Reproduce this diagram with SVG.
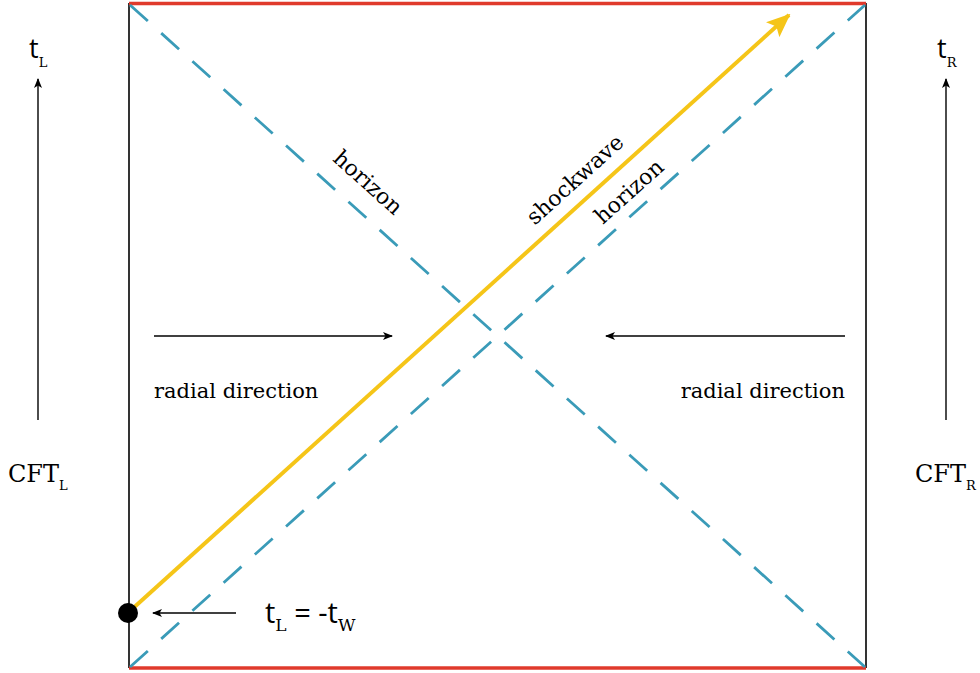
<svg xmlns="http://www.w3.org/2000/svg" width="980" height="673" viewBox="0 0 980 673">
<style>
.serif{font-family:"DejaVu Serif","Liberation Serif",serif;fill:#000}
.sans{font-family:"Open Sans","Liberation Sans",sans-serif;fill:#000}
.frame{stroke:#000;stroke-width:1.6;fill:none}
.red{stroke:#e03a2c;stroke-width:3.5}
.dash{stroke:#3a9bb8;stroke-width:2.8;stroke-dasharray:24,18;fill:none}
.arr{stroke:#000;stroke-width:1.4;fill:none}
</style>
<defs>
<marker id="ah" markerWidth="10" markerHeight="8" refX="9" refY="4" orient="auto" markerUnits="userSpaceOnUse">
<path d="M0,0 L10,4 L0,8 L2.5,4 Z" fill="#000"/>
</marker>
<marker id="ay" markerWidth="24" markerHeight="20" refX="22" refY="10" orient="auto" markerUnits="userSpaceOnUse">
<path d="M0,0 L24,10 L0,20 L5,10 Z" fill="#f5c518"/>
</marker>
</defs>
<g id="frame">
<line class="frame" x1="129" y1="3" x2="129" y2="668"/>
<line class="frame" x1="866" y1="3" x2="866" y2="668"/>
<line class="red" x1="129" y1="3.5" x2="866" y2="3.5"/>
<line class="red" x1="129" y1="668" x2="866" y2="668"/>
</g>
<g id="connectors">
<line class="dash" x1="130" y1="5" x2="865" y2="667"/>
<line class="dash" x1="130" y1="667" x2="865" y2="5"/>
<line x1="130" y1="611" x2="789" y2="15" stroke="#f5c518" stroke-width="4" marker-end="url(#ay)"/>
<line class="arr" x1="38" y1="420" x2="38" y2="79" marker-end="url(#ah)"/>
<line class="arr" x1="946" y1="420" x2="946" y2="79" marker-end="url(#ah)"/>
<line class="arr" x1="154" y1="336" x2="392" y2="336" marker-end="url(#ah)"/>
<line class="arr" x1="845" y1="336" x2="606" y2="336" marker-end="url(#ah)"/>
<line class="arr" x1="236" y1="613" x2="153" y2="613" marker-end="url(#ah)"/>
</g>
<g id="dot"><circle cx="128" cy="613" r="10" fill="#000"/></g>
<g id="labels">
<text class="serif" font-size="22" transform="translate(363,188) rotate(42)" text-anchor="middle">horizon</text>
<text class="serif" font-size="22" transform="translate(580,185) rotate(-42)" text-anchor="middle">shockwave</text>
<text class="serif" font-size="22" transform="translate(634,197) rotate(-42)" text-anchor="middle">horizon</text>
<text class="serif" font-size="21" x="154" y="398">radial direction</text>
<text class="serif" font-size="21" x="845" y="398" text-anchor="end">radial direction</text>
<text class="serif" font-size="24" x="8" y="482">CFT<tspan font-size="13" dy="8">L</tspan></text>
<text class="serif" font-size="24" x="915" y="482">CFT<tspan font-size="13" dy="8">R</tspan></text>
<text x="29" y="58"><tspan class="sans" font-size="27">t</tspan><tspan class="serif" font-size="13" dy="9">L</tspan></text>
<text x="937" y="58"><tspan class="sans" font-size="27">t</tspan><tspan class="serif" font-size="13" dy="9">R</tspan></text>
<text x="265" y="623"><tspan class="sans" font-size="29">t</tspan><tspan class="serif" font-size="17" dy="8">L</tspan><tspan class="sans" font-size="29" dy="-8"> = -t</tspan><tspan class="serif" font-size="17" dy="8">W</tspan></text>
</g>
</svg>
